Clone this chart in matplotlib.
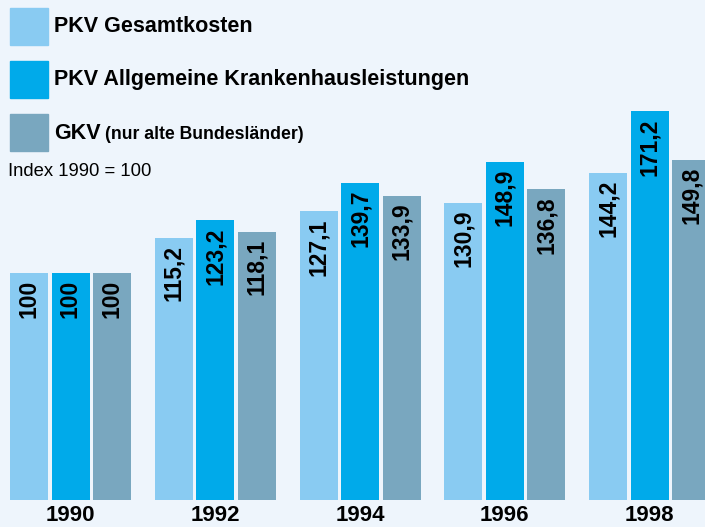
import numpy as np
import matplotlib.pyplot as plt

# data
years = ['1990', '1992', '1994', '1996', '1998']
pkv_gesamt = [100, 115.2, 127.1, 130.9, 144.2]
pkv_kh = [100, 123.2, 139.7, 148.9, 171.2]
gkv = [100, 118.1, 133.9, 136.8, 149.8]
series_names = ['PKV Gesamtkosten', 'PKV Allgemeine Krankenhausleistungen', 'GKV']
colors = ['#89CBF2', '#00AAEA', '#79A7BF']
bg = '#EEF5FC'

plt.rcParams['font.family'] = ['Liberation Sans', 'DejaVu Sans']

fig = plt.figure(figsize=(7.05, 5.27), dpi=100, facecolor=bg)
# axes: bar baseline at 27px from bottom, full width
ax = fig.add_axes([0, 27 / 527, 1, 500 / 527])
ax.set_facecolor(bg)
pitch = 144.75
ax.set_xlim(-70.5 / pitch, (705 - 70.5) / pitch)
ax.set_ylim(0, 500 / 2.27)
ax.axis('off')

x = np.arange(len(years))
w = 38 / pitch
off = 41.5 / pitch
for i, vals in enumerate([pkv_gesamt, pkv_kh, gkv]):
    pos = x + (i - 1) * off
    ax.bar(pos, vals, width=w, color=colors[i], zorder=2)
    for p, v in zip(pos, vals):
        lab = ('%g' % v).replace('.', ',')
        ax.text(p, v - 3.0, lab, rotation=90, ha='center', va='top',
                fontsize=16.5, fontweight='bold', color='black', zorder=3)

# year labels
for p, y in zip(x, years):
    fig.text((70.5 + p * pitch) / 705, 1 - 521 / 527, y, ha='center', va='baseline',
             fontsize=16, fontweight='bold')

# legend
for i, name in enumerate(series_names):
    top = 8 + i * 53
    fig.patches.append(plt.Rectangle((10 / 705, 1 - (top + 37) / 527), 38 / 705, 37 / 527,
                                     transform=fig.transFigure, color=colors[i]))
    yc = 1 - (top + 19) / 527
    fig.text(54 / 705, yc, name, ha='left', va='center', fontsize=15.5, fontweight='bold')
    if i == 2:
        fig.text(105 / 705, yc - 0.002, '(nur alte Bundesländer)', ha='left', va='center',
                 fontsize=12.7, fontweight='bold')

fig.text(8 / 705, 1 - 172 / 527, 'Index 1990 = 100', ha='left', va='center', fontsize=13.3)

fig.savefig('out.png', dpi=100, facecolor=bg)
